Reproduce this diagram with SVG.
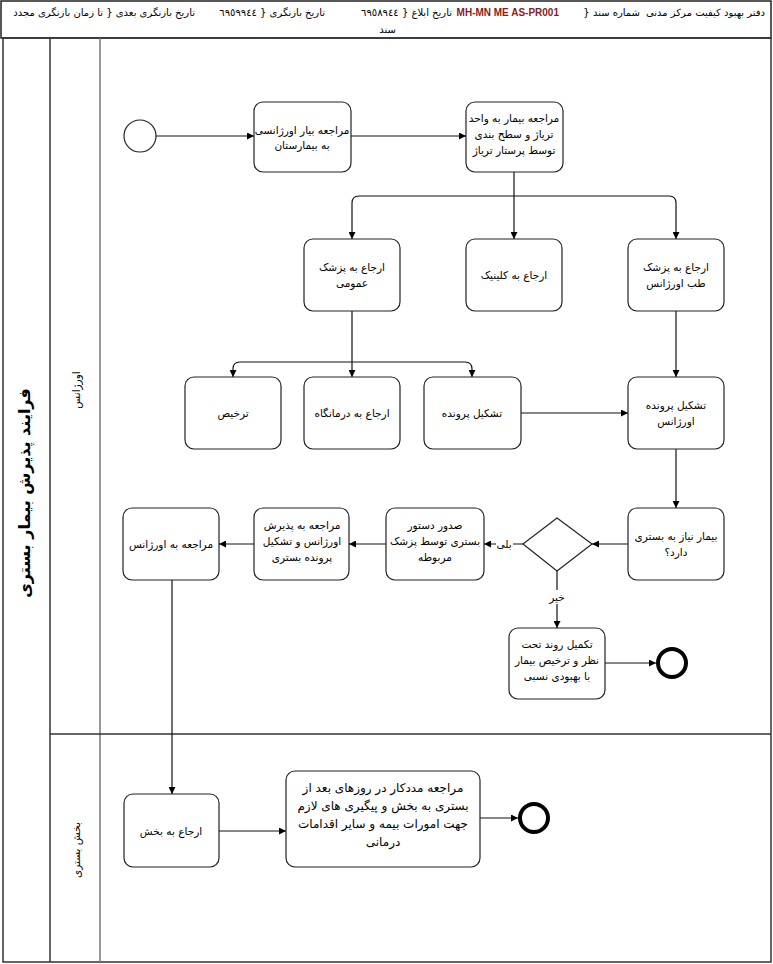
<svg xmlns="http://www.w3.org/2000/svg" width="773" height="964" viewBox="0 0 773 964">
<defs>
<marker id="ah" viewBox="0 0 10 10" refX="10" refY="5" markerWidth="7" markerHeight="7" orient="auto" markerUnits="userSpaceOnUse"><path d="M0,0 L10,5 L0,10 z" fill="#000"/></marker>
<style>
.n{fill:#fff;stroke:#222;stroke-width:1.2}
.t{font-family:"DejaVu Sans","Noto Sans",sans-serif;font-size:10.5px;fill:#000;text-anchor:middle}
.tb{font-family:"DejaVu Sans","Noto Sans",sans-serif;font-size:12px;fill:#000;text-anchor:middle}
.h{font-family:"DejaVu Sans","Noto Sans",sans-serif;font-size:10px;fill:#000;text-anchor:start}
.c{fill:none;stroke:#111;stroke-width:1.2;marker-end:url(#ah)}
.cl{fill:none;stroke:#111;stroke-width:1.2}
.lane{fill:none;stroke:#333;stroke-width:1.5}
</style>
</defs>
<g id="header">
<rect x="1" y="1" width="770" height="37" fill="#fff" stroke="#222" stroke-width="1.5"/>
<text class="h" x="765" y="16" direction="rtl">دفتر بهبود کیفیت مرکز مدنی</text>
<text class="h" x="640" y="16" direction="rtl">شماره سند {</text>
<text x="559" y="16" text-anchor="end" font-family="Liberation Sans, sans-serif" font-size="10" font-weight="bold" fill="#8b1a1a">MH-MN ME AS-PR001</text>
<text class="h" x="452" y="16" direction="rtl">تاریخ ابلاغ { ٦٩٥٨٩٤٤</text>
<text class="h" x="325" y="16" direction="rtl">تاریخ بازنگری { ٦٩٥٩٩٤٤</text>
<text class="h" x="195" y="16" direction="rtl">تاریخ بازنگری بعدی { تا زمان بازنگری مجدد</text>
<text class="h" x="396" y="33" direction="rtl">سند</text>
</g>
<g id="pool">
<rect x="3" y="38" width="768" height="924" class="lane"/>
<line x1="50" y1="38" x2="50" y2="962" class="lane"/>
<line x1="100" y1="38" x2="100" y2="962" stroke="#777" stroke-width="1.5"/>
<line x1="50" y1="734" x2="771" y2="734" class="lane"/>
<text transform="translate(30,493) rotate(-90)" font-family="DejaVu Sans, sans-serif" font-size="16" font-weight="bold" text-anchor="middle" direction="rtl">فرایند پذیرش بیمار بستری</text>
<text transform="translate(80,390) rotate(-90)" class="t" direction="rtl">اورژانس</text>
<text transform="translate(80,850) rotate(-90)" class="t" direction="rtl">بخش بستری</text>
</g>
<g id="connectors">
<path class="c" d="M156,136 L254,136"/>
<path class="c" d="M351,136 L466,136"/>
<path class="cl" d="M514,172 L514,196"/>
<path class="c" d="M514,196 L514,239"/>
<path class="c" d="M514,196 L359,196 Q352,196 352,203 L352,239"/>
<path class="c" d="M514,196 L669,196 Q676,196 676,203 L676,239"/>
<path class="cl" d="M352,311 L352,362"/>
<path class="c" d="M352,362 L352,377"/>
<path class="c" d="M352,362 L240,362 Q233,362 233,369 L233,377"/>
<path class="c" d="M352,362 L465,362 Q472,362 472,369 L472,377"/>
<path class="c" d="M676,311 L676,377"/>
<path class="c" d="M521,413 L628,413"/>
<path class="c" d="M676,449 L676,508"/>
<path class="c" d="M628,544 L592,544"/>
<path class="c" d="M523,544 L484,544"/>
<rect x="496" y="537" width="17" height="14" fill="#fff"/>
<text class="t" x="504" y="548" direction="rtl">بلی</text>
<path class="c" d="M557,571 L557,628"/>
<rect x="548" y="590" width="18" height="14" fill="#fff"/>
<text class="t" x="557" y="601" direction="rtl">خیر</text>
<path class="c" d="M605,663 L656,663"/>
<path class="c" d="M386,544 L349,544"/>
<path class="c" d="M254,544 L219,544"/>
<path class="c" d="M172,580 L172,794"/>
<path class="c" d="M219,831 L286,831"/>
<path class="c" d="M480,818 L518,818"/>
</g>
<g id="start"><circle cx="140" cy="136" r="16" fill="#fff" stroke="#222" stroke-width="1.2"/></g>
<g id="n1"><rect class="n" x="254" y="102" width="97" height="70" rx="9"/>
<text class="t" x="302" y="134" direction="rtl">مراجعه بیار اورژانسی</text>
<text class="t" x="302" y="149" direction="rtl">به بیمارستان</text></g>
<g id="n2"><rect class="n" x="466" y="102" width="97" height="70" rx="9"/>
<text class="t" x="514" y="122" direction="rtl">مراجعه بیمار به واحد</text>
<text class="t" x="514" y="138" direction="rtl">ترياژ و سطح بندی</text>
<text class="t" x="514" y="154" direction="rtl">توسط پرستار ترياژ</text></g>
<g id="n3"><rect class="n" x="304" y="239" width="96" height="72" rx="9"/>
<text class="t" x="352" y="271" direction="rtl">ارجاع به پزشک</text>
<text class="t" x="352" y="287" direction="rtl">عمومی</text></g>
<g id="n4"><rect class="n" x="466" y="239" width="96" height="72" rx="9"/>
<text class="t" x="514" y="279" direction="rtl">ارجاع به کلینیک</text></g>
<g id="n5"><rect class="n" x="628" y="239" width="96" height="72" rx="9"/>
<text class="t" x="676" y="271" direction="rtl">ارجاع به پزشک</text>
<text class="t" x="676" y="287" direction="rtl">طب اورژانس</text></g>
<g id="n6"><rect class="n" x="185" y="377" width="96" height="72" rx="9"/>
<text class="t" x="233" y="417" direction="rtl">ترخیص</text></g>
<g id="n7"><rect class="n" x="304" y="377" width="96" height="72" rx="9"/>
<text class="t" x="352" y="417" direction="rtl">ارجاع به درمانگاه</text></g>
<g id="n8"><rect class="n" x="424" y="377" width="97" height="72" rx="9"/>
<text class="t" x="472" y="417" direction="rtl">تشکیل پرونده</text></g>
<g id="n9"><rect class="n" x="628" y="377" width="96" height="72" rx="9"/>
<text class="t" x="676" y="409" direction="rtl">تشکیل پرونده</text>
<text class="t" x="676" y="425" direction="rtl">اورژانس</text></g>
<g id="n10"><rect class="n" x="628" y="508" width="96" height="72" rx="9"/>
<text class="t" x="676" y="540" direction="rtl">بیمار نیاز به بستری</text>
<text class="t" x="676" y="556" direction="rtl">دارد؟</text></g>
<g id="gw"><path class="n" d="M557,518 L592,544 L557,571 L523,544 z"/></g>
<g id="n11"><rect class="n" x="386" y="508" width="98" height="72" rx="9"/>
<text class="t" x="435" y="529" direction="rtl">صدور دستور</text>
<text class="t" x="435" y="545" direction="rtl">بستری توسط پزشک</text>
<text class="t" x="435" y="561" direction="rtl">مربوطه</text></g>
<g id="n12"><rect class="n" x="254" y="508" width="95" height="72" rx="9"/>
<text class="t" x="302" y="529" direction="rtl">مراجعه به پذیرش</text>
<text class="t" x="302" y="545" direction="rtl">اورژانس و تشکیل</text>
<text class="t" x="302" y="561" direction="rtl">پرونده بستری</text></g>
<g id="n13"><rect class="n" x="123" y="508" width="96" height="72" rx="9"/>
<text class="t" x="171" y="548" direction="rtl">مراجعه به اورژانس</text></g>
<g id="n14"><rect class="n" x="509" y="628" width="96" height="71" rx="9"/>
<text class="t" x="557" y="648" direction="rtl">تکمیل روند تحت</text>
<text class="t" x="557" y="664" direction="rtl">نظر و ترخیص بیمار</text>
<text class="t" x="557" y="680" direction="rtl">با بهبودی نسبی</text></g>
<g id="end1"><circle cx="672" cy="663" r="14" fill="#fff" stroke="#000" stroke-width="4"/></g>
<g id="n15"><rect class="n" x="124" y="794" width="95" height="73" rx="9"/>
<text class="t" x="171" y="835" direction="rtl">ارجاع به بخش</text></g>
<g id="n16"><rect class="n" x="286" y="771" width="194" height="96" rx="9"/>
<text class="tb" x="383" y="792" direction="rtl">مراجعه مددکار در روزهای بعد از</text>
<text class="tb" x="383" y="810" direction="rtl">بستری به بخش و پیگیری های لازم</text>
<text class="tb" x="383" y="828" direction="rtl">جهت امورات بیمه و سایر اقدامات</text>
<text class="tb" x="383" y="846" direction="rtl">درمانی</text></g>
<g id="end2"><circle cx="534" cy="818" r="14" fill="#fff" stroke="#000" stroke-width="4"/></g>
</svg>
